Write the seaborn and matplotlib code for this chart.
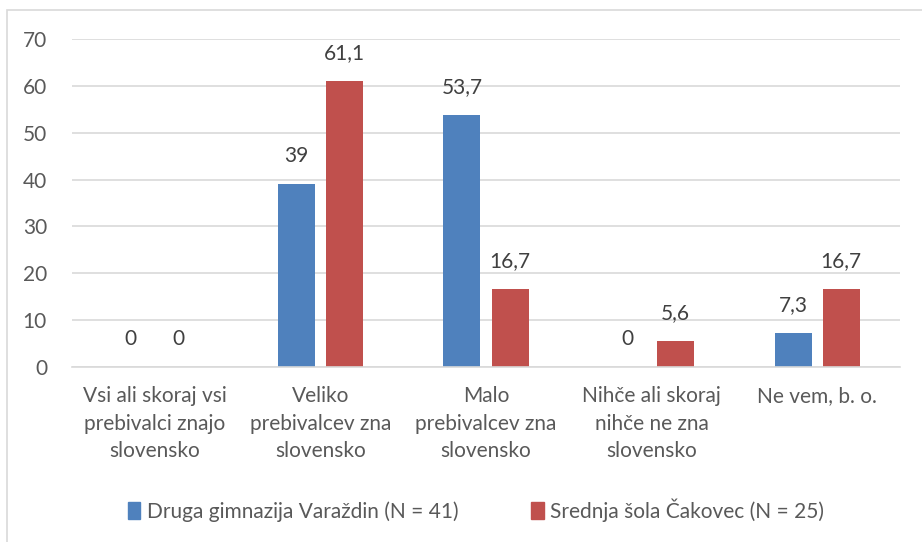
import pandas as pd
import seaborn as sns
import matplotlib.pyplot as plt
from matplotlib.patches import Rectangle

# podatki
kategorije = ['Vsi ali skoraj vsi\nprebivalci znajo\nslovensko',
              'Veliko\nprebivalcev zna\nslovensko',
              'Malo\nprebivalcev zna\nslovensko',
              'Nihče ali skoraj\nnihče ne zna\nslovensko',
              'Ne vem, b. o.']
varazdin = [0, 39, 53.7, 0, 7.3]
cakovec = [0, 61.1, 16.7, 5.6, 16.7]
skupine = ['Druga gimnazija Varaždin (N = 41)', 'Srednja šola Čakovec (N = 25)']
barve = ['#4f81bd', '#c0504d']

df = pd.DataFrame({
    'kategorija': kategorije * 2,
    'delez': varazdin + cakovec,
    'skupina': [skupine[0]] * 5 + [skupine[1]] * 5,
})

sns.set_style('white')
plt.rcParams['font.family'] = ['Lato', 'DejaVu Sans']
fs = 15

fig = plt.figure(figsize=(9.22, 5.42), dpi=100)
ax = fig.add_axes([72 / 922, 1 - 367 / 542, 828 / 922, 328 / 542])

sns.barplot(data=df, x='kategorija', y='delez', hue='skupina', palette=barve,
            saturation=1, width=0.58, gap=0.23, linewidth=0, ax=ax, legend=False)

ax.set_ylim(0, 70)
ax.set_yticks(range(0, 71, 10))
ax.yaxis.grid(True, color='#d9d9d9', linewidth=1.2)
ax.set_axisbelow(True)
for s in ['top', 'right', 'left']:
    ax.spines[s].set_visible(False)
ax.spines['bottom'].set_color('#d9d9d9')
ax.spines['bottom'].set_linewidth(1.2)
ax.tick_params(axis='both', length=0, labelsize=fs, colors='#595959')
ax.tick_params(axis='y', pad=18)
ax.tick_params(axis='x', pad=14)
for t in ax.get_xticklabels():
    t.set_linespacing(1.45)
ax.set_xlabel('')
ax.set_ylabel('')

# oznake vrednosti
for cont in ax.containers:
    oznake = [f'{v:g}'.replace('.', ',') for v in cont.datavalues]
    ax.bar_label(cont, labels=oznake, padding=13, fontsize=fs, color='#404040')

# legenda
rocke = [Rectangle((0, 0), 1, 1, color=b) for b in barve]
fig.legend(rocke, skupine, loc='center', bbox_to_anchor=(476 / 922, 1 - 510 / 542),
           ncol=2, frameon=False, fontsize=fs, handlelength=0.6, handleheight=0.9,
           handletextpad=0.3, columnspacing=3.5, labelcolor='#595959')

# okvir grafikona
fig.patches.append(Rectangle((7 / 922, -0.01), 1.0, 1 - 10 / 542 + 0.01,
                             transform=fig.transFigure, fill=False,
                             edgecolor='#d9d9d9', linewidth=1.2))

plt.savefig('out.png', dpi=100)
plt.close()
